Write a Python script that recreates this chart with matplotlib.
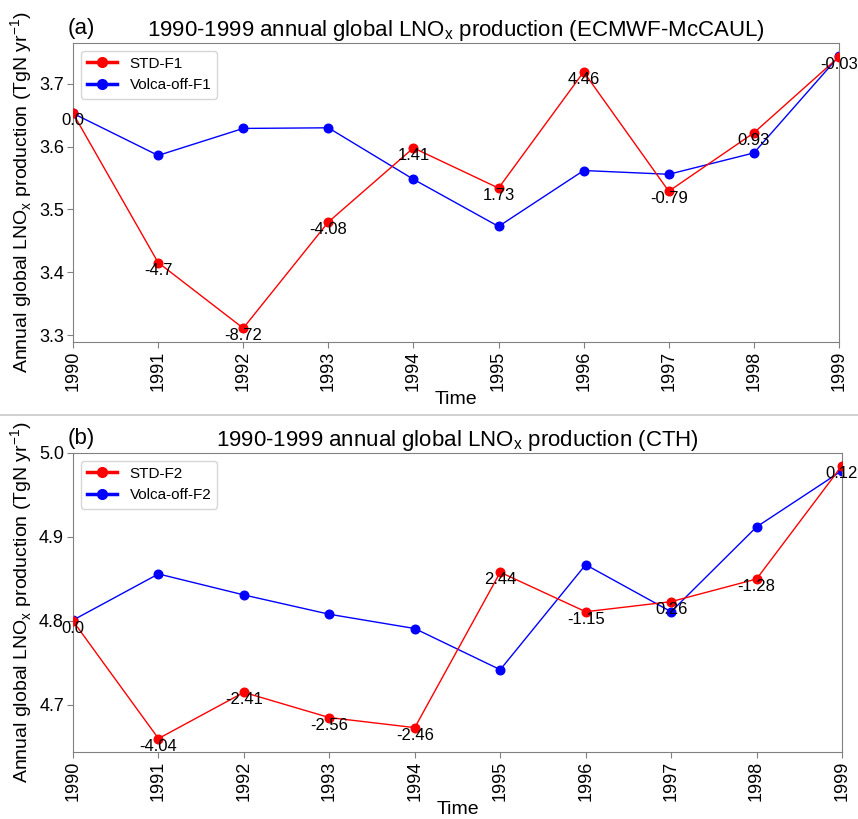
import matplotlib
matplotlib.use("Agg")
import matplotlib.pyplot as plt
from matplotlib.lines import Line2D

plt.rcParams['font.family'] = ['Liberation Sans', 'DejaVu Sans']

years = [1990, 1991, 1992, 1993, 1994, 1995, 1996, 1997, 1998, 1999]

std_f1 = [3.653, 3.4155, 3.311, 3.480, 3.598, 3.534, 3.719, 3.529, 3.622, 3.743]
volca_f1 = [3.653, 3.586, 3.629, 3.630, 3.548, 3.473, 3.562, 3.556, 3.590, 3.744]
labels_f1 = ["0.0", "-4.7", "-8.72", "-4.08", "1.41", "1.73", "4.46", "-0.79", "0.93", "-0.03"]

std_f2 = [4.800, 4.660, 4.715, 4.685, 4.673, 4.858, 4.811, 4.823, 4.850, 4.985]
volca_f2 = [4.801, 4.856, 4.831, 4.808, 4.791, 4.742, 4.867, 4.811, 4.912, 4.979]
labels_f2 = ["0.0", "-4.04", "-2.41", "-2.56", "-2.46", "2.44", "-1.15", "0.26", "-1.28", "0.12"]

W, H = 858, 819
fig = plt.figure(figsize=(W / 100, H / 100), dpi=100)

def axes_px(l, t, r, b):
    return fig.add_axes([l / W, 1 - b / H, (r - l) / W, (b - t) / H])

ax1 = axes_px(73, 43, 839, 342)
ax2 = axes_px(73, 453, 842, 752)

panels = [
    (ax1, std_f1, volca_f1, labels_f1, "STD-F1", "Volca-off-F1",
     "1990-1999 annual global LNO$_\\mathregular{x}$ production (ECMWF-McCAUL)", "(a)",
     (3.289, 3.765), [3.3, 3.4, 3.5, 3.6, 3.7]),
    (ax2, std_f2, volca_f2, labels_f2, "STD-F2", "Volca-off-F2",
     "1990-1999 annual global LNO$_\\mathregular{x}$ production (CTH)", "(b)",
     (4.644, 5.0), [4.7, 4.8, 4.9, 5.0]),
]

for ax, s, v, lab, ls, lv, title, tag, ylim, yt in panels:
    ax.plot(years, s, color='red', lw=1, marker='o', ms=6.2, zorder=3)
    ax.plot(years, v, color='blue', lw=1, marker='o', ms=6.2, zorder=2)
    for x, y, t in zip(years, s, lab):
        ax.text(x, y, t, ha='center', va='top', fontsize=12, zorder=4)
    ax.set_xlim(years[0], years[-1])
    ax.set_ylim(*ylim)
    ax.set_yticks(yt)
    ax.set_xticks(years)
    ax.set_xticklabels([str(y) for y in years], rotation=90)
    ax.tick_params(axis='both', labelsize=13, color='#808080', length=4, pad=2.5)
    for sp in ax.spines.values():
        sp.set_color('#808080')
    ax.set_title(title, fontsize=16, pad=5)
    ax.text(-0.007, 1.012, tag, transform=ax.transAxes, fontsize=16, ha='left', va='bottom')
    ax.set_xlabel("Time", fontsize=14, labelpad=0)
    ax.set_ylabel("Annual global LNO$_\\mathregular{x}$ production (TgN yr$^\\mathregular{-1}$)",
                  fontsize=14, labelpad=3)
    handles = [Line2D([0], [0], color='red', lw=2.5, marker='o', ms=7),
               Line2D([0], [0], color='blue', lw=2.5, marker='o', ms=7)]
    ax.legend(handles, [ls, lv], loc='upper left', fontsize=11, framealpha=0.8)

fig.add_artist(Line2D([0, 1], [1 - 415 / H, 1 - 415 / H], color='#c8c8c8', lw=1.2,
                      transform=fig.transFigure))

fig.savefig("out.png", dpi=100)
